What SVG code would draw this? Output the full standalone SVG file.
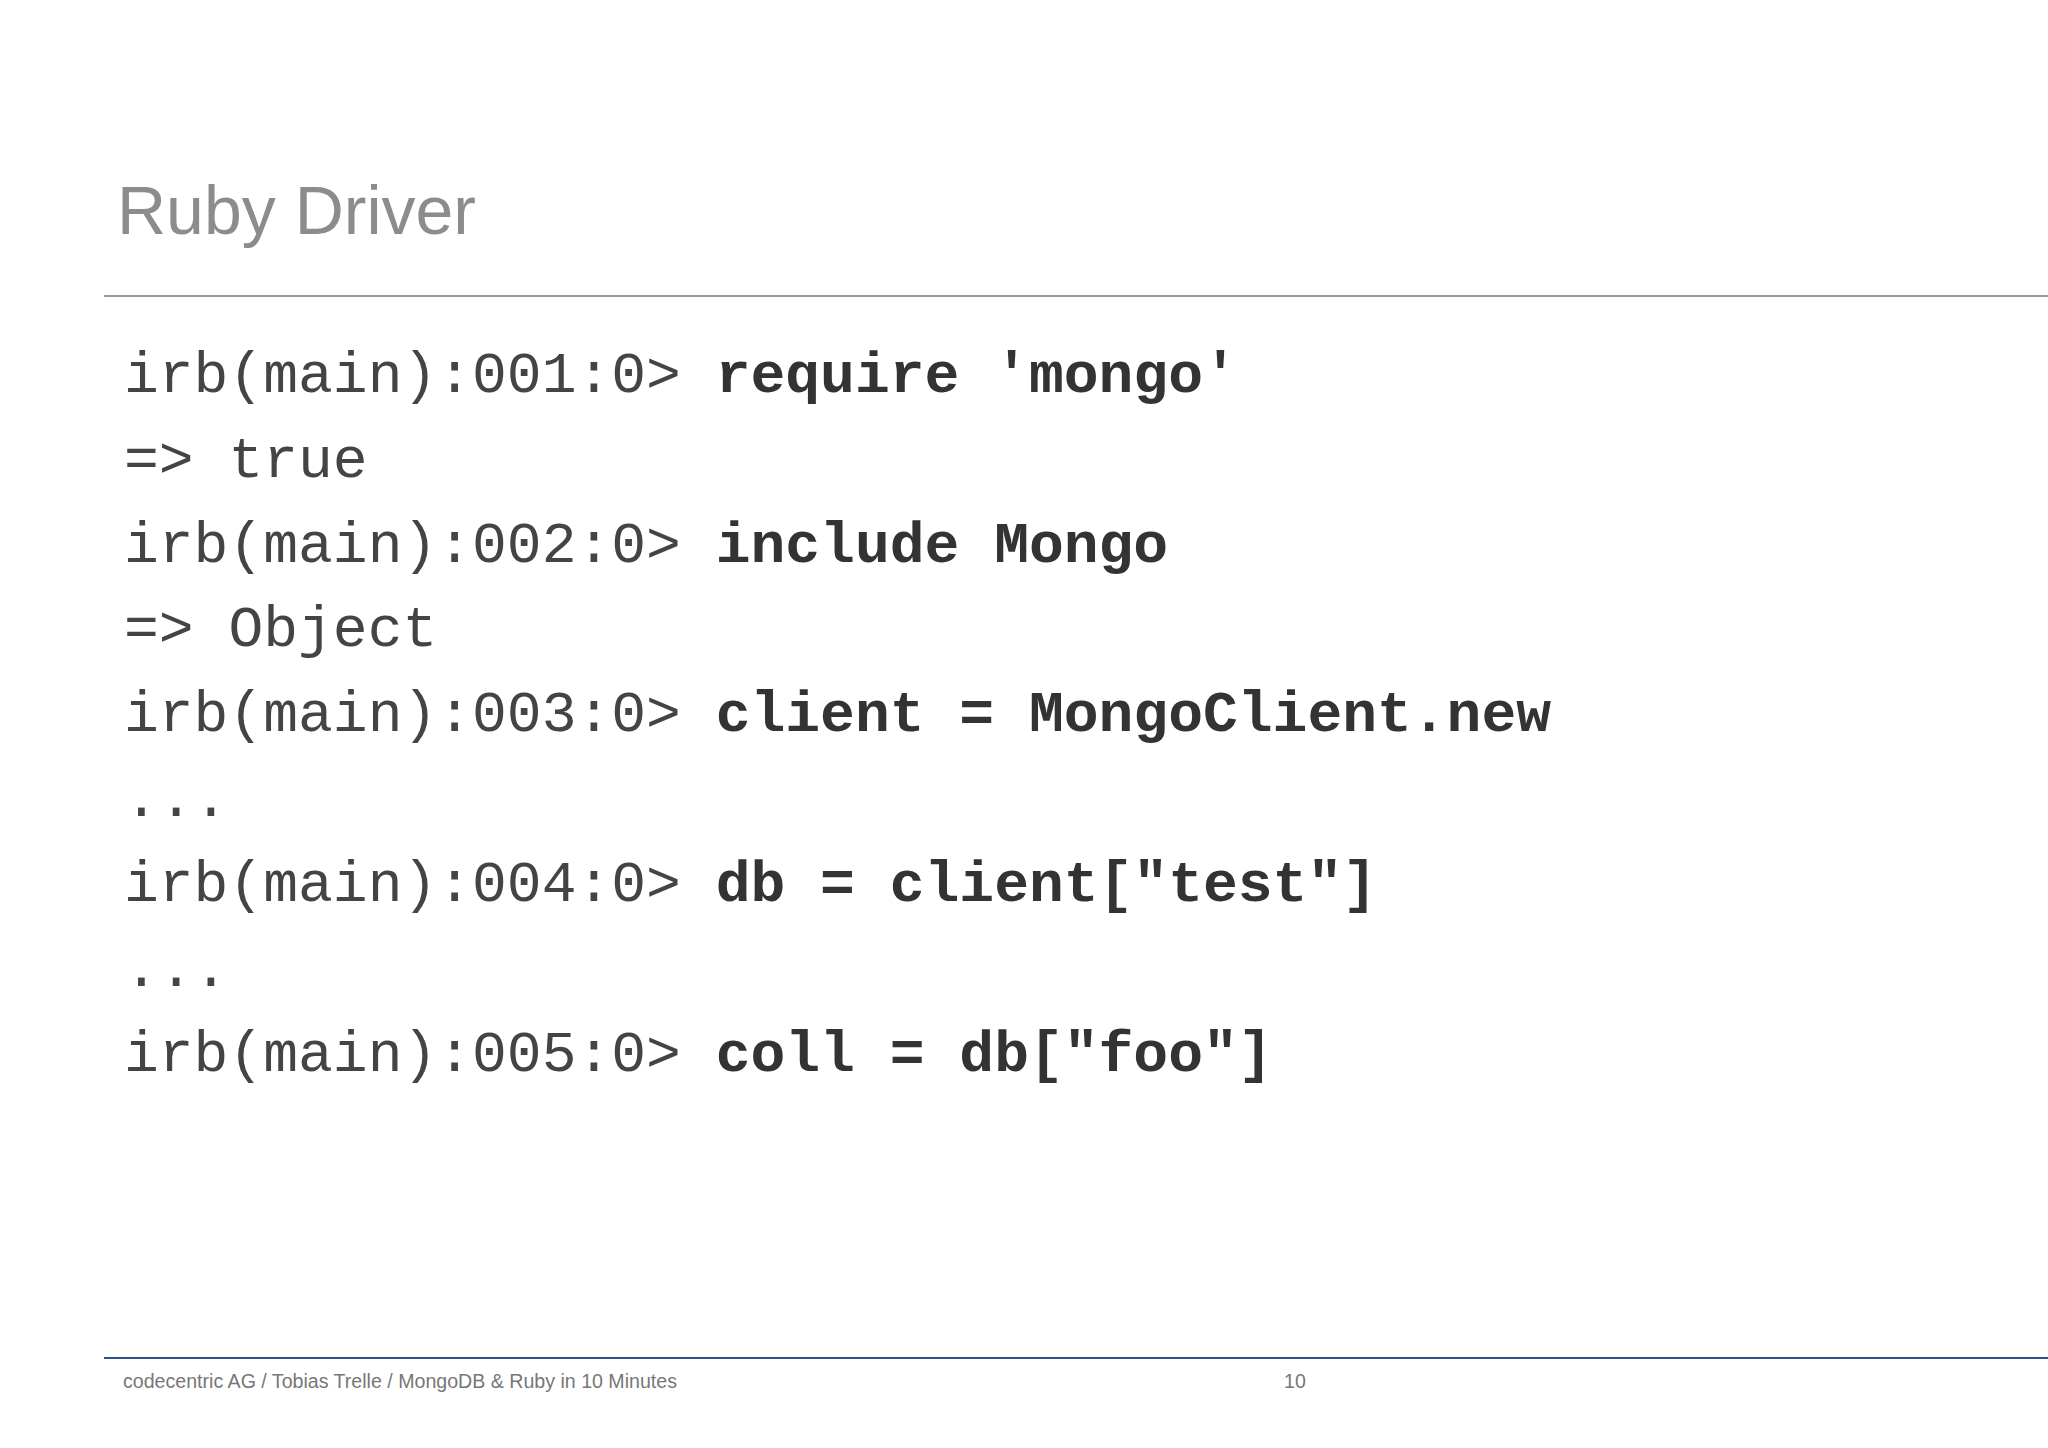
<svg xmlns="http://www.w3.org/2000/svg" width="2048" height="1448" viewBox="0 0 2048 1448">
<style>
.c{font-family:"Courier New","Liberation Mono",monospace;font-size:58px;fill:#444}
.b{font-weight:bold;fill:#333}
.f{font-family:"Liberation Sans",Arial,sans-serif;font-size:19.6px;fill:#777}
</style>
<rect width="2048" height="1448" fill="#fff"/>
<text x="117" y="234" font-family="Liberation Sans,Arial,sans-serif" font-size="68" fill="#8c8c8c">Ruby Driver</text>
<line x1="104" y1="296" x2="2048" y2="296" stroke="#999" stroke-width="2"/>
<g id="code">
<text class="c" x="124" y="392">irb(main):001:0&gt; <tspan class="b">require 'mongo'</tspan></text>
<text class="c" x="124" y="477">=&gt; true</text>
<text class="c" x="124" y="562">irb(main):002:0&gt; <tspan class="b">include Mongo</tspan></text>
<text class="c" x="124" y="646">=&gt; Object</text>
<text class="c" x="124" y="731">irb(main):003:0&gt; <tspan class="b">client = MongoClient.new</tspan></text>
<text class="c" x="124" y="816">...</text>
<text class="c" x="124" y="901">irb(main):004:0&gt; <tspan class="b">db = client["test"]</tspan></text>
<text class="c" x="124" y="986">...</text>
<text class="c" x="124" y="1071">irb(main):005:0&gt; <tspan class="b">coll = db["foo"]</tspan></text>
</g>
<line x1="104" y1="1358" x2="2048" y2="1358" stroke="#2f4f8f" stroke-width="2"/>
<text class="f" x="123" y="1388">codecentric AG / Tobias Trelle / MongoDB &amp; Ruby in 10 Minutes</text>
<text class="f" x="1284" y="1388">10</text>
</svg>
